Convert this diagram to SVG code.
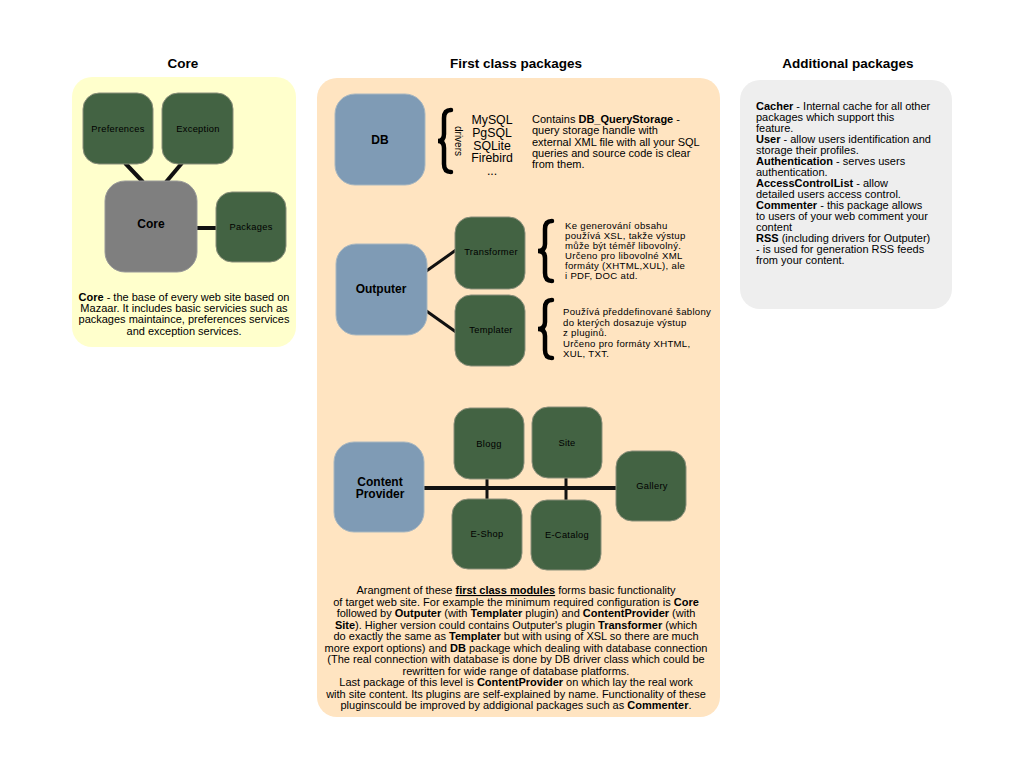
<svg xmlns="http://www.w3.org/2000/svg" width="1024" height="768" viewBox="0 0 1024 768">
<style>
text{font-family:"Liberation Sans",Arial,sans-serif;fill:#000}
.title{font-size:13.5px;font-weight:bold;text-anchor:middle}
.panel{stroke:none}
.g{fill:#436343;stroke:#8a8f7a;stroke-width:1}
.b{fill:#7f9bb5;stroke:#a9b7c0;stroke-width:1}
.gr{fill:#7f7f7f;stroke:#999;stroke-width:1}
.nl{font-size:9.3px;text-anchor:middle;letter-spacing:0.3px}
.bl{font-size:12px;font-weight:bold;text-anchor:middle}
.desc{font-size:11px}
.small{font-size:9.6px;letter-spacing:0.3px}
.c{stroke:#111;fill:none}
.brace{stroke:#000;stroke-width:4.5;fill:none;stroke-linecap:round}
</style>
<rect width="1024" height="768" fill="#fff"/>

<text class="title" x="183" y="68">Core</text>
<text class="title" x="516" y="68">First class packages</text>
<text class="title" x="848" y="68">Additional packages</text>

<rect class="panel" x="72" y="77" width="224" height="270" rx="20" fill="#ffffcc"/>
<rect class="panel" x="317" y="78" width="403" height="639" rx="20" fill="#ffe4c1"/>
<rect class="panel" x="740" y="80" width="212" height="229" rx="20" fill="#eeeeee"/>

<g id="connectors">
  <line class="c" stroke-width="4" x1="125" y1="163" x2="143" y2="182"/>
  <line class="c" stroke-width="4" x1="182" y1="163" x2="166" y2="182"/>
  <line class="c" stroke-width="4" x1="196" y1="228" x2="216" y2="228"/>
  <line class="c" stroke-width="3" x1="425" y1="272" x2="456" y2="250"/>
  <line class="c" stroke-width="3" x1="425" y1="310" x2="456" y2="332"/>
  <line class="c" stroke-width="4" x1="424" y1="488" x2="616" y2="488"/>
  <line class="c" stroke-width="3" x1="487" y1="478" x2="487" y2="500"/>
  <line class="c" stroke-width="3" x1="566" y1="477" x2="566" y2="501"/>
</g>

<g id="core-preferences"><rect class="g" x="83" y="93" width="70" height="71" rx="16"/><text class="nl" x="118" y="132">Preferences</text></g>
<g id="core-exception"><rect class="g" x="162" y="93" width="71" height="71" rx="16"/><text class="nl" x="198" y="132">Exception</text></g>
<g id="core"><rect class="gr" x="105" y="181" width="92" height="91" rx="20"/><text class="bl" x="151" y="228">Core</text></g>
<g id="core-packages"><rect class="g" x="216" y="192" width="70" height="70" rx="16"/><text class="nl" x="251" y="230">Packages</text></g>

<g id="core-desc">
<text class="desc" text-anchor="middle" x="184" y="301"><tspan font-weight="bold">Core</tspan> - the base of every web site based on</text>
<text class="desc" text-anchor="middle" x="184" y="312">Mazaar. It includes basic servicies such as</text>
<text class="desc" text-anchor="middle" x="184" y="323">packages maintaince, preferences services</text>
<text class="desc" text-anchor="middle" x="184" y="335">and exception services.</text>
</g>

<g id="db"><rect class="b" x="335" y="94" width="90" height="91" rx="20"/><text class="bl" x="380" y="144">DB</text></g>
<g id="db-drivers">
<path class="brace" d="M451,110 Q444,110 444,118 L444,134 Q444,141 438,141 Q444,141 444,148 L444,164 Q444,172 451,172"/>
<text font-size="10px" text-anchor="middle" transform="translate(455,141) rotate(90)">drivers</text>
<text font-size="12.3px" text-anchor="middle" x="492" y="124">MySQL</text>
<text font-size="12.3px" text-anchor="middle" x="492" y="137">PgSQL</text>
<text font-size="12.3px" text-anchor="middle" x="492" y="150">SQLite</text>
<text font-size="12.3px" text-anchor="middle" x="492" y="162">Firebird</text>
<text font-size="12.3px" text-anchor="middle" x="492" y="175">...</text>
</g>
<g id="db-desc">
<text class="desc" x="532" y="123">Contains <tspan font-weight="bold">DB_QueryStorage</tspan> -</text>
<text class="desc" x="532" y="134">query storage handle with</text>
<text class="desc" x="532" y="145.5">external XML file with all your SQL</text>
<text class="desc" x="532" y="157">queries and source code is clear</text>
<text class="desc" x="532" y="168">from them.</text>
</g>

<g id="outputer"><rect class="b" x="336" y="244" width="91" height="91" rx="20"/><text class="bl" x="381" y="293">Outputer</text></g>
<g id="transformer"><rect class="g" x="455" y="217" width="70" height="72" rx="16"/><text class="nl" x="491" y="255">Transformer</text></g>
<g id="templater"><rect class="g" x="455" y="295" width="70" height="71" rx="16"/><text class="nl" x="491" y="333">Templater</text></g>
<g id="transformer-desc">
<path class="brace" d="M552,221 Q545,221 545,229 L545,244 Q545,251 538,251 Q545,251 545,258 L545,273 Q545,281 552,281"/>
<text class="small" x="565" y="229">Ke generování obsahu</text>
<text class="small" x="565" y="239">používá XSL, takže výstup</text>
<text class="small" x="565" y="249">může být téměř libovolný.</text>
<text class="small" x="565" y="259">Určeno pro libovolné XML</text>
<text class="small" x="565" y="269">formáty (XHTML,XUL), ale</text>
<text class="small" x="565" y="279">i PDF, DOC atd.</text>
</g>
<g id="templater-desc">
<path class="brace" d="M552,300 Q545,300 545,308 L545,322 Q545,329 538,329 Q545,329 545,336 L545,350 Q545,358 552,358"/>
<text class="small" x="563" y="315">Používá předdefinované šablony</text>
<text class="small" x="563" y="326">do kterých dosazuje výstup</text>
<text class="small" x="563" y="336">z pluginů.</text>
<text class="small" x="563" y="347">Určeno pro formáty XHTML,</text>
<text class="small" x="563" y="357">XUL, TXT.</text>
</g>

<g id="content-provider"><rect class="b" x="334" y="442" width="90" height="90" rx="20"/><text class="bl" x="380" y="486">Content</text><text class="bl" x="380" y="498">Provider</text></g>
<g id="blogg"><rect class="g" x="454" y="408" width="70" height="71" rx="16"/><text class="nl" x="489" y="447">Blogg</text></g>
<g id="site"><rect class="g" x="532" y="407" width="70" height="71" rx="16"/><text class="nl" x="567" y="446">Site</text></g>
<g id="gallery"><rect class="g" x="616" y="451" width="70" height="70" rx="16"/><text class="nl" x="652" y="489">Gallery</text></g>
<g id="e-shop"><rect class="g" x="452" y="499" width="70" height="70" rx="16"/><text class="nl" x="487" y="537">E-Shop</text></g>
<g id="e-catalog"><rect class="g" x="531" y="500" width="70" height="70" rx="16"/><text class="nl" x="567" y="538">E-Catalog</text></g>

<g id="first-class-desc">
<text class="desc" text-anchor="middle" x="516" y="594">Arangment of these <tspan font-weight="bold" text-decoration="underline">first class modules</tspan> forms basic functionality</text>
<text class="desc" text-anchor="middle" x="516" y="605.5">of target web site. For example the minimum required configuration is <tspan font-weight="bold">Core</tspan></text>
<text class="desc" text-anchor="middle" x="516" y="617">followed by <tspan font-weight="bold">Outputer</tspan> (with <tspan font-weight="bold">Templater</tspan> plugin) and <tspan font-weight="bold">ContentProvider</tspan> (with</text>
<text class="desc" text-anchor="middle" x="516" y="628.5"><tspan font-weight="bold">Site</tspan>). Higher version could contains Outputer's plugin <tspan font-weight="bold">Transformer</tspan>  (which</text>
<text class="desc" text-anchor="middle" x="516" y="640">do exactly the same as <tspan font-weight="bold">Templater</tspan> but with using of XSL so there are much</text>
<text class="desc" text-anchor="middle" x="516" y="651.5">more export options) and <tspan font-weight="bold">DB</tspan> package which dealing with database connection</text>
<text class="desc" text-anchor="middle" x="516" y="663">(The real connection with database is done by DB driver class which could be</text>
<text class="desc" text-anchor="middle" x="516" y="674.5">rewritten for wide range of database platforms.</text>
<text class="desc" text-anchor="middle" x="516" y="686">Last package of this level is <tspan font-weight="bold">ContentProvider</tspan> on which lay the real work</text>
<text class="desc" text-anchor="middle" x="516" y="697.5">with site content. Its plugins are self-explained by name. Functionality of these</text>
<text class="desc" text-anchor="middle" x="516" y="709">pluginscould be improved by addigional packages such as <tspan font-weight="bold">Commenter</tspan>.</text>
</g>

<g id="additional-desc">
<text class="desc" x="756" y="110"><tspan font-weight="bold">Cacher</tspan> - Internal cache for all other</text>
<text class="desc" x="756" y="121">packages which support this</text>
<text class="desc" x="756" y="132">feature.</text>
<text class="desc" x="756" y="143"><tspan font-weight="bold">User</tspan> - allow users identification and</text>
<text class="desc" x="756" y="154">storage their profiles.</text>
<text class="desc" x="756" y="165"><tspan font-weight="bold">Authentication</tspan> - serves users</text>
<text class="desc" x="756" y="176">authentication.</text>
<text class="desc" x="756" y="187"><tspan font-weight="bold">AccessControlList</tspan> - allow</text>
<text class="desc" x="756" y="198">detailed users access control.</text>
<text class="desc" x="756" y="209"><tspan font-weight="bold">Commenter</tspan> - this package allows</text>
<text class="desc" x="756" y="220">to users of your web comment your</text>
<text class="desc" x="756" y="231">content</text>
<text class="desc" x="756" y="242"><tspan font-weight="bold">RSS</tspan> (including drivers for Outputer)</text>
<text class="desc" x="756" y="253">- is used for generation RSS feeds</text>
<text class="desc" x="756" y="264">from your content.</text>
</g>
</svg>
